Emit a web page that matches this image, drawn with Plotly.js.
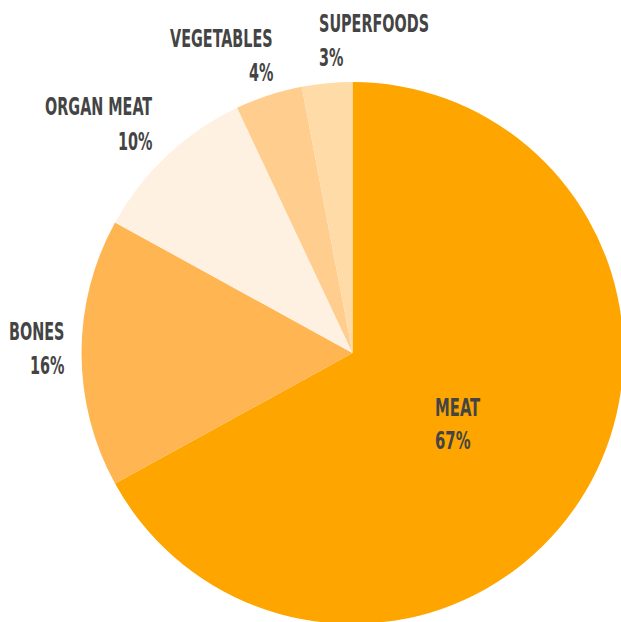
<!DOCTYPE html>
<html>
<head>
<meta charset="utf-8">
<script src="https://cdn.plot.ly/plotly-3.0.1.min.js"></script>
<style>
html, body { margin: 0; padding: 0; overflow: hidden; background: #ffffff; }
#chart { width: 640px; height: 640px; }
/* tall, condensed display look (like the reference's headline face) */
#chart .annotation-text {
  transform-box: fill-box;
  transform-origin: center;
  transform: scaleY(1.5);
}
</style>
</head>
<body>
<div id="chart"></div>
<script>
// ---- data ----
var categories = ['MEAT', 'BONES', 'ORGAN MEAT', 'VEGETABLES', 'SUPERFOODS'];
var shares = [67, 16, 10, 4, 3];

// ---- style ----
var sliceColors = ['#FFA500', '#FFB652', '#FFF1E1', '#FFCD8E', '#FFDBA8'];
var textColor = '#444444';
var fontFamily = '"DejaVu Sans Condensed", "DejaVu Sans", sans-serif';
var W = 640, H = 640;                 // canvas larger than window, clipped by viewport
var cx = 352.5, cy = 353, R = 271;    // pie centre / radius (px)
// label placement style: radial fraction of anchor, x-anchor, nudge of name line (px), line pitch
var labelStyle = [
  {rf: 0.45, xa: 'left',  dx: -24.5, dy: -7.6,  pitch: 33, size: 16.5},
  {rf: 1.00, xa: 'right', dx: -16,   dy: -22,   pitch: 34, size: 16},
  {rf: 1.00, xa: 'right', dx: -13,   dy: -48.7, pitch: 35, size: 16},
  {rf: 1.00, xa: 'right', dx: 6,     dy: -57,   pitch: 34, size: 16},
  {rf: 1.00, xa: 'left',  dx: -10,   dy: -60,   pitch: 34, size: 16}
];

var total = shares.reduce(function (a, b) { return a + b; }, 0);
var annotations = [];
var cum = 0;
for (var i = 0; i < categories.length; i++) {
  var mid = (cum + shares[i] / 2) / total * 2 * Math.PI; // clockwise from 12 o'clock
  cum += shares[i];
  var st = labelStyle[i];
  var px = cx + Math.sin(mid) * R * st.rf + st.dx;
  var py = cy - Math.cos(mid) * R * st.rf + st.dy;
  var pct = Math.round(shares[i] / total * 100) + '%';
  [[categories[i], py], [pct, py + st.pitch]].forEach(function (ln) {
    annotations.push({
      text: ln[0], xref: 'paper', yref: 'paper',
      x: px / W, y: 1 - ln[1] / H,
      xanchor: st.xa, yanchor: 'middle', showarrow: false,
      font: {family: fontFamily, size: st.size, color: textColor, weight: 'bold'}
    });
  });
}

var trace = {
  type: 'pie',
  labels: categories,
  values: shares,
  sort: false,
  direction: 'clockwise',
  rotation: 0,
  textinfo: 'none',
  hoverinfo: 'label+percent',
  marker: {colors: sliceColors, line: {width: 0}},
  domain: {x: [(cx - R) / W, (cx + R) / W], y: [1 - (cy + R) / H, 1 - (cy - R) / H]}
};

var layout = {
  width: W, height: H,
  margin: {l: 0, r: 0, t: 0, b: 0},
  showlegend: false,
  paper_bgcolor: '#ffffff',
  annotations: annotations
};

Plotly.newPlot('chart', [trace], layout, {displayModeBar: false, staticPlot: true});
</script>
</body>
</html>
